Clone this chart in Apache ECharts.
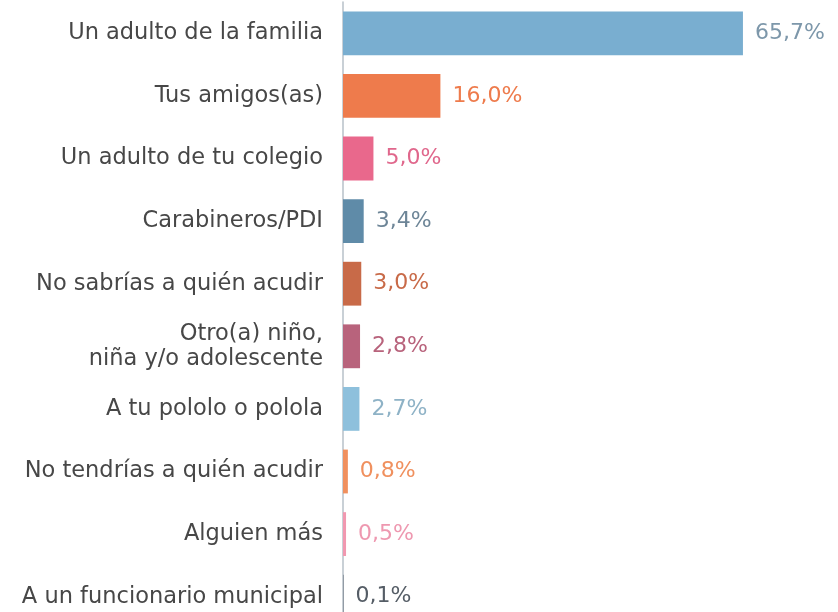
<!DOCTYPE html>
<html>
<head>
<meta charset="utf-8">
<script src="https://cdn.jsdelivr.net/npm/echarts@6/dist/echarts.min.js"></script>
<style>
  html, body { margin: 0; padding: 0; background: #fff; }
  #chart { width: 838px; height: 612px; }
</style>
</head>
<body>
<div id="chart"></div>
<script>
  // categorias y porcentajes
  const categories = [
    'Un adulto de la familia',
    'Tus amigos(as)',
    'Un adulto de tu colegio',
    'Carabineros/PDI',
    'No sabrías a quién acudir',
    'Otro(a) niño,\nniña y/o adolescente',
    'A tu pololo o polola',
    'No tendrías a quién acudir',
    'Alguien más',
    'A un funcionario municipal'
  ];
  const values = [65.7, 16.0, 5.0, 3.4, 3.0, 2.8, 2.7, 0.8, 0.5, 0.1];

  // colores de barra y de etiqueta
  const barColors = ['#79aed0', '#ee7b4c', '#e9688c', '#5f8ba8', '#c86a48', '#b8637c', '#8ec0dc', '#f0905e', '#f198b0', '#707a86'];
  const labelColors = ['#7d97aa', '#ee7b4c', '#e0678c', '#6d8597', '#c86a48', '#b8637c', '#8eb2c6', '#f0905e', '#ee98b0', '#555d66'];

  let myChart = echarts.init(document.getElementById('chart'));
  let option = {
    animation: false,
    grid: {
      left: 343,
      top: 2,
      width: 487,
      height: 626,
      outerBoundsMode: 'none'
    },
    xAxis: {
      type: 'value',
      min: 0,
      max: 80,
      show: false
    },
    yAxis: {
      type: 'category',
      inverse: true,
      data: categories,
      axisLine: { show: true, lineStyle: { color: '#b7c0c8', width: 1.5 } },
      axisTick: { show: false },
      axisLabel: {
        margin: 20,
        fontFamily: 'DejaVu Sans',
        fontSize: 22.5,
        color: '#474747',
        lineHeight: 25,
        align: 'right'
      }
    },
    series: [
      {
        type: 'bar',
        data: values.map((v, i) => ({
          value: v,
          itemStyle: { color: barColors[i] },
          label: { color: labelColors[i] }
        })),
        barCategoryGap: '30%',
        label: {
          show: true,
          position: 'right',
          distance: 12,
          fontFamily: 'DejaVu Sans',
          fontSize: 22,
          formatter: p => p.value.toFixed(1).replace('.', ',') + '%'
        }
      }
    ]
  };
  myChart.setOption(option);
</script>
</body>
</html>
